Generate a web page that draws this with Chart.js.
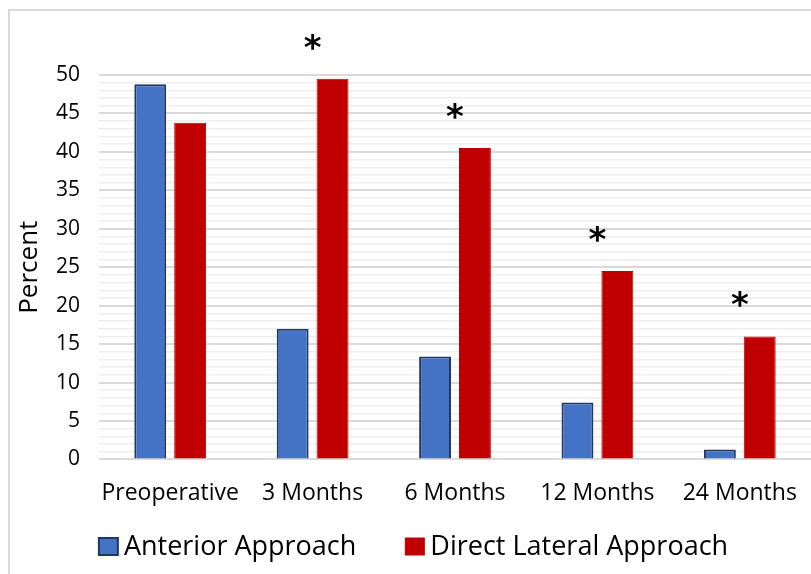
<!DOCTYPE html>
<html>
<head>
<meta charset="utf-8">
<script src="https://cdn.jsdelivr.net/npm/chart.js@4"></script>
<style>
  html, body { margin: 0; padding: 0; background: #fff; }
  #wrap { width: 811px; height: 574px; position: relative; }
</style>
</head>
<body>
<div id="wrap"><canvas id="chart" width="811" height="574"></canvas></div>
<script>
// values
const categories = ['Preoperative', '3 Months', '6 Months', '12 Months', '24 Months'];
const anteriorValues = [48.8, 17.0, 13.4, 7.4, 1.3];
const lateralValues = [43.8, 49.5, 40.5, 24.5, 16.0];
const significant = [false, true, true, true, true];
const yTicks = [0, 5, 10, 15, 20, 25, 30, 35, 40, 45, 50];

const FONT = '"Open Sans", sans-serif';

// light frame around the figure (only top/left visible in the crop)
const framePlugin = {
  id: 'frame',
  beforeDraw(chart) {
    const ctx = chart.ctx;
    ctx.save();
    ctx.strokeStyle = '#d9d9d9';
    ctx.lineWidth = 2;
    ctx.beginPath();
    ctx.moveTo(9, chart.height + 5);
    ctx.lineTo(9, 10);
    ctx.lineTo(chart.width + 5, 10);
    ctx.stroke();
    ctx.restore();
  }
};

// asterisks over the significant comparisons
const starPlugin = {
  id: 'stars',
  afterDatasetsDraw(chart) {
    const ctx = chart.ctx;
    const x = chart.scales.x, y = chart.scales.y;
    ctx.save();
    ctx.fillStyle = '#000';
    ctx.font = 'bold 34px "DejaVu Sans", sans-serif';
    ctx.textAlign = 'center';
    ctx.textBaseline = 'middle';
    significant.forEach((s, i) => {
      if (!s) return;
      const px = x.getPixelForValue(i);
      const py = y.getPixelForValue(lateralValues[i] + 4.8);
      ctx.fillText('*', px, py + 8);
    });
    ctx.restore();
  }
};

// bottom legend, Excel-like spacing
const legendPlugin = {
  id: 'bottomLegend',
  afterDraw(chart) {
    const ctx = chart.ctx;
    const sets = chart.data.datasets;
    const boxW = 19, boxH = 17, boxGap = 6, itemGap = 49;
    ctx.save();
    ctx.font = '27px ' + FONT;
    const widths = sets.map(d => ctx.measureText(d.label).width);
    const total = widths.reduce((a, w) => a + boxW + boxGap + w, 0) + itemGap * (sets.length - 1);
    let cx = chart.width / 2 + 8 - total / 2;
    const baseline = 555;
    sets.forEach((d, i) => {
      ctx.fillStyle = d.backgroundColor;
      ctx.strokeStyle = d.borderColor;
      ctx.lineWidth = d.borderWidth;
      ctx.fillRect(cx, baseline - boxH, boxW, boxH);
      ctx.strokeRect(cx, baseline - boxH, boxW, boxH);
      cx += boxW + boxGap;
      ctx.fillStyle = '#000';
      ctx.textBaseline = 'alphabetic';
      ctx.textAlign = 'left';
      ctx.fillText(d.label, cx, baseline);
      cx += widths[i] + itemGap;
    });
    ctx.restore();
  }
};

new Chart(document.getElementById('chart'), {
  type: 'bar',
  data: {
    labels: categories,
    datasets: [{
      label: 'Anterior Approach',
      data: anteriorValues,
      backgroundColor: '#4472c4',
      borderColor: '#1f3864',
      borderWidth: 2,
      categoryPercentage: 0.56,
      barPercentage: 0.8
    }, {
      label: 'Direct Lateral Approach',
      data: lateralValues,
      backgroundColor: '#c00000',
      borderColor: '#c00000',
      borderWidth: 1,
      categoryPercentage: 0.56,
      barPercentage: 0.8
    }]
  },
  options: {
    responsive: false,
    animation: false,
    layout: { padding: { top: 75, left: 0, right: 0, bottom: 55 } },
    plugins: {
      legend: { display: false },
      tooltip: { enabled: false }
    },
    scales: {
      x: {
        grid: { display: false },
        border: { display: false },
        ticks: {
          font: { family: FONT, size: 23 },
          color: '#000',
          maxRotation: 0,
          padding: 12
        }
      },
      y: {
        min: 0,
        max: 50,
        border: { display: false },
        afterFit: axis => { axis.width = 99; },
        grid: {
          color: ctx => (ctx.tick && ctx.tick.value % 5 === 0) ? '#d9d9d9' : '#eeeeee',
          lineWidth: ctx => (ctx.tick && ctx.tick.value % 5 === 0) ? 2 : 1.5,
          drawTicks: false
        },
        afterBuildTicks: axis => {
          const t = [];
          for (let v = 0; v <= 50; v++) t.push({ value: v });
          axis.ticks = t;
        },
        ticks: {
          autoSkip: false,
          font: { family: FONT, size: 21 },
          color: '#000',
          padding: 19,
          callback: v => yTicks.includes(v) ? String(v) : ''
        },
        title: {
          display: true,
          text: 'Percent',
          font: { family: FONT, size: 26 },
          color: '#000',
          padding: { top: 14, bottom: 0 }
        }
      }
    }
  },
  plugins: [framePlugin, starPlugin, legendPlugin]
});
</script>
</body>
</html>
